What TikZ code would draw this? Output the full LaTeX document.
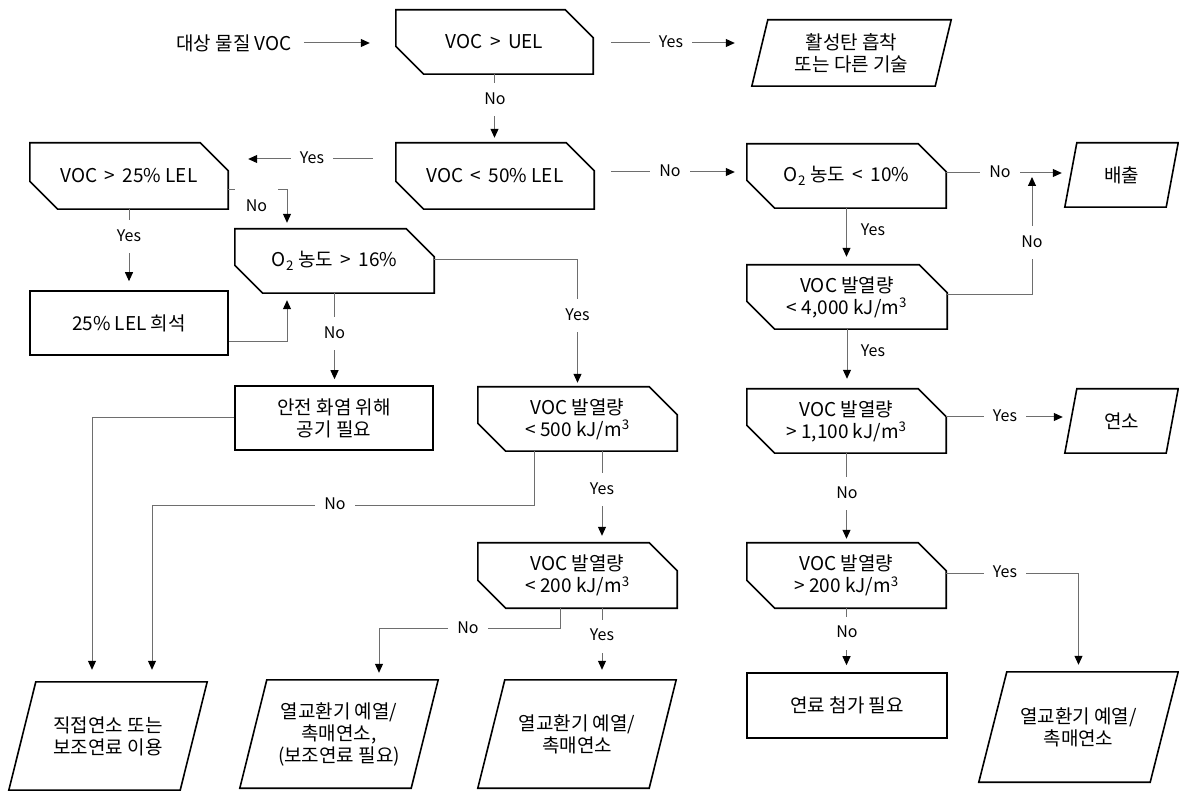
\documentclass[tikz,border=0pt]{standalone}
\usepackage{fontspec}
\setmainfont{Noto Sans CJK KR}
\usetikzlibrary{arrows.meta}
\definecolor{conn}{RGB}{110,110,110}
\begin{document}
\begin{tikzpicture}[x=1pt,y=-1pt,
  every node/.style={font=\fontsize{19}{22}\selectfont, align=center, inner sep=0pt},
  sz/.style 2 args={minimum width=#1pt, minimum height=#2pt},
  rectbox/.style={draw, line width=1.6pt},
  boxline/.style={draw, line width=1.6pt, line join=miter},
  arr/.style={draw=conn, line width=1pt, -{Triangle[length=9pt,width=8pt,color=black]}},
  lab/.style={fill=white, font=\fontsize{16}{19}\selectfont, text height=12pt, text depth=3pt, inner xsep=9pt, inner ysep=9pt},
  slab/.style={font=\fontsize{16}{19}\selectfont, text height=12pt, text depth=3pt}
]
\useasboundingbox (0,0) rectangle (1179,791);

% ---- nodes ----
\node (src) at (234,43) {대상 물질 VOC};
\node[sz={197}{64}] (uel) at (494.5,42) {VOC \,>\, UEL};
\node[sz={199}{66}] (act) at (851.5,53) {활성탄 흡착\\또는 다른 기술};
\node[sz={198}{66}] (l50) at (495,176) {VOC \,<\, 50\% LEL};
\node[sz={199}{64}] (o10) at (846.5,176) {O\textsubscript{2} 농도 \,<\, 10\%};
\node[sz={113}{64}] (out) at (1121.5,175) {배출};
\node[sz={200}{64}] (q4000) at (847,297) {VOC 발열량\\< 4,000 kJ/m\textsuperscript{3}};
\node[sz={199}{64}] (q1100) at (846.5,421) {VOC 발열량\\> 1,100 kJ/m\textsuperscript{3}};
\node[sz={113}{64}] (burn) at (1121.5,421) {연소};
\node[sz={199}{65}] (q200r) at (846.5,575.5) {VOC 발열량\\> 200 kJ/m\textsuperscript{3}};
\node[rectbox, sz={200}{65}] (fuel) at (847,705.5) {연료 첨가 필요};
\node[sz={199}{110}] (hxr) at (1078.5,727) {열교환기 예열/\\촉매연소};
\node[sz={198}{66}] (v25) at (129,176) {VOC \,>\, 25\% LEL};
\node[rectbox, sz={198}{64}] (dil) at (129,323) {25\% LEL 희석};
\node[sz={199}{64}] (o16) at (334.5,261) {O\textsubscript{2} 농도 \,>\, 16\%};
\node[rectbox, sz={198}{64}] (air) at (334,418) {안전 화염 위해\\공기 필요};
\node[sz={199}{64}] (q500) at (577.5,419) {VOC 발열량\\< 500 kJ/m\textsuperscript{3}};
\node[sz={199}{65}] (q200) at (577.5,575.5) {VOC 발열량\\< 200 kJ/m\textsuperscript{3}};
\node[sz={198}{108}] (direct) at (108,736) {직접연소 또는\\보조연료 이용};
\node[sz={198}{108}] (hxaux) at (339,734) {열교환기 예열/\\촉매연소,\\(보조연료 필요)};
\node[sz={198}{108}] (hxm) at (577,734) {열교환기 예열/\\촉매연소};

% ---- shape outlines ----
\foreach \n in {uel,l50,o10,q4000,q1100,q200r,v25,o16,q500,q200}
  \draw[boxline] (\n.north west) -- ([xshift=-28pt]\n.north east) -- ([yshift=-28pt]\n.north east)
     -- (\n.south east) -- ([xshift=28pt]\n.south west) -- ([yshift=28pt]\n.south west) -- cycle;
\foreach \n/\s in {act/16,out/12,burn/12,hxr/28,direct/27,hxaux/27,hxm/27}
  \draw[boxline] ([xshift=\s pt]\n.north west) -- (\n.north east) -- ([xshift=-\s pt]\n.south east)
     -- (\n.south west) -- cycle;

% ---- connectors ----
\draw[arr, shorten <=12pt, shorten >=26pt] (src.east) -- (uel.west |- src.east);
\draw[arr, shorten <=18pt, shorten >=17pt] ([yshift=-1pt]uel.east) -- ([yshift=-1pt]uel.east -| act.west);
\node[lab] (t1) at (671,43) {Yes};
\draw[arr, shorten >=5pt] (uel.south) -- (uel.south |- l50.north);
\node[lab] (t2) at (495,100) {No};
\draw[arr, shorten <=23pt, shorten >=20pt] ([yshift=17pt]l50.west) -- ([yshift=17pt]l50.west -| v25.east);
\node[lab] (t3) at (312,159) {Yes};
\draw[arr, shorten <=17pt, shorten >=12pt] ([yshift=4pt]l50.east) -- ([yshift=4pt]l50.east -| o10.west);
\node[lab] (t4) at (670,172) {No};
\draw[arr, shorten >=3pt] ([yshift=3pt]o10.east) -- ([yshift=3pt]o10.east -| out.west);
\node[lab] (t5) at (1000,173) {No};
\coordinate (j1) at (1032,173);
\draw[arr, shorten >=4pt] ([yshift=2pt]q4000.east) -| (j1);
\node[lab] (t6) at (1032,243) {No};
\draw[arr, shorten >=8pt] (o10.south) -- (o10.south |- q4000.north);
\node[slab] (t7) at (873,231) {Yes};
\draw[arr, shorten >=10pt] (q4000.south) -- (q4000.south |- q1100.north);
\node[slab] (t8) at (873,352) {Yes};
\draw[arr, shorten >=2pt] ([yshift=4pt]q1100.east) -- ([yshift=4pt]q1100.east -| burn.west);
\node[lab] (t9) at (1005,417) {Yes};
\draw[arr, shorten >=4pt] (q1100.south) -- (q1100.south |- q200r.north);
\node[lab] (t10) at (847,494) {No};
\draw[arr, shorten >=7pt] ([yshift=2.5pt]q200r.east) -| (hxr.north);
\node[lab] (t11) at (1005,573) {Yes};
\draw[arr, shorten >=7pt] (q200r.south) -- (q200r.south |- fuel.north);
\node[lab] (t12) at (847,633) {No};
\draw[arr, shorten >=9pt] (v25.south) -- (v25.south |- dil.north);
\node[lab] (t13) at (129,237) {Yes};
\draw[arr, shorten >=6pt] ([yshift=-14pt]v25.east) -| ([xshift=-47.5pt]o16.north);
\node[lab, inner sep=0pt, minimum width=43pt, minimum height=36pt] (t14) at (256.5,207) {No};
\draw[arr, shorten >=7pt] ([yshift=-19pt]dil.east) -| ([xshift=-47.5pt]o16.south);
\draw[arr, shorten >=6pt] (o16.south) -- (o16.south |- air.north);
\node[lab] (t15) at (334.5,334) {No};
\draw[arr, shorten >=4pt] ([yshift=1pt]o16.east) -| (q500.north);
\node[lab] (t16) at (577.5,316) {Yes};
\draw[arr, shorten >=12pt] (air.west) -| ([xshift=-16pt]direct.north);
\draw[arr, shorten >=12pt] ([xshift=-43.5pt]q500.south) -- ++(0,54) -| ([xshift=44pt]direct.north);
\node[lab] (t17) at (335,505) {No};
\draw[arr, shorten >=7pt] ([xshift=24.5pt]q500.south) -- ([xshift=24.5pt]q200.north);
\node[lab] (t18) at (602,490) {Yes};
\draw[arr, shorten >=7pt] ([xshift=-17.5pt]q200.south) -- ++(0,20) -| ([xshift=40pt]hxaux.north);
\node[lab] (t19) at (468,629) {No};
\draw[arr, shorten >=10pt] ([xshift=24.5pt]q200.south) -- ([xshift=24.5pt]q200.south |- hxm.north);
\node[lab] (t20) at (602,636) {Yes};
\end{tikzpicture}
\end{document}
